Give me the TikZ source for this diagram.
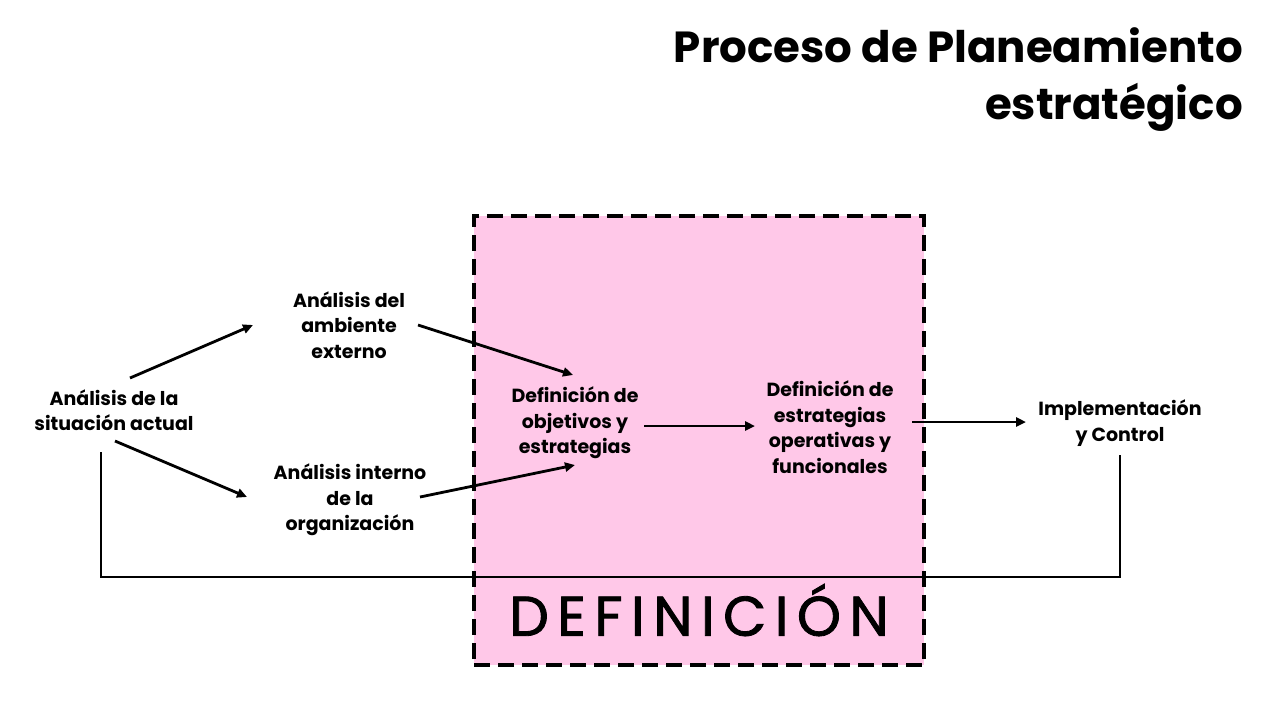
\documentclass[tikz,border=0pt]{standalone}
\usepackage{fontspec}
\setmainfont{Poppins}
\usepackage{xcolor}
\usepackage{tikz}
\usetikzlibrary{arrows.meta, positioning}
\definecolor{zonapink}{RGB}{255,200,232}

\begin{document}
\begin{tikzpicture}[
x=1pt, y=-1pt,
lbl/.style={font=\bfseries\fontsize{19}{25.5}\selectfont, align=center, inner sep=0pt},
titulo/.style={font=\bfseries\fontsize{43.5}{57}\selectfont, align=right, inner sep=0pt},
zona/.style={draw, fill=zonapink, line width=3.4pt, dash pattern=on 16pt off 8pt, minimum width=450pt, minimum height=449pt, inner sep=0pt},
grande/.style={font=\fontsize{56}{60}\selectfont\addfontfeatures{LetterSpace=15, FakeBold=1.5}, inner sep=0pt},
arr/.style={-{Triangle[length=10pt, width=9pt]}, line width=2.8pt},
retro/.style={line width=2.8pt}
]
\useasboundingbox (0,0) rectangle (1284,716);

\node[zona] (zona) at (699,440.5) {};
\node[grande] (deflbl) at (699,610) {DEFINICIÓN};

\node[titulo, anchor=north east] (tit) at (1243,27) {Proceso de Planeamiento\\estratégico};

\node[lbl] (sit) at (114,410) {Análisis de la\\situación actual};
\node[lbl] (ext) at (349,325) {Análisis del\\ambiente\\externo};
\node[lbl] (int) at (350,500) {Análisis interno\\de la\\organización};
\node[lbl] (obj) at (575,423) {Definición de\\objetivos y\\estrategias};
\node[lbl] (ope) at (830,427) {Definición de\\estrategias\\operativas y\\funcionales};
\node[lbl] (imp) at (1120,423) {Implementación\\y Control};

\draw[arr] ([shift={(16,-32)}]sit.center) -- ([shift={(-96,0)}]ext.center);
\draw[arr] ([shift={(1,31)}]sit.center) -- ([shift={(-103,-3)}]int.center);
\draw[arr] ([shift={(69,0)}]ext.center) -- ([shift={(-2,-48)}]obj.center);
\draw[arr] ([shift={(70,-3)}]int.center) -- ([shift={(0,42)}]obj.center);
\draw[arr] ([shift={(69,3)}]obj.center) -- ([shift={(-75,-1)}]ope.center);
\draw[arr] ([shift={(82,-5)}]ope.center) -- ([shift={(-94,-1)}]imp.center);

% retroalimentacion
\draw[retro] ([shift={(-13,42)}]sit.center) -- ++(0,125) -| ([shift={(0,32)}]imp.center);
\end{tikzpicture}
\end{document}
